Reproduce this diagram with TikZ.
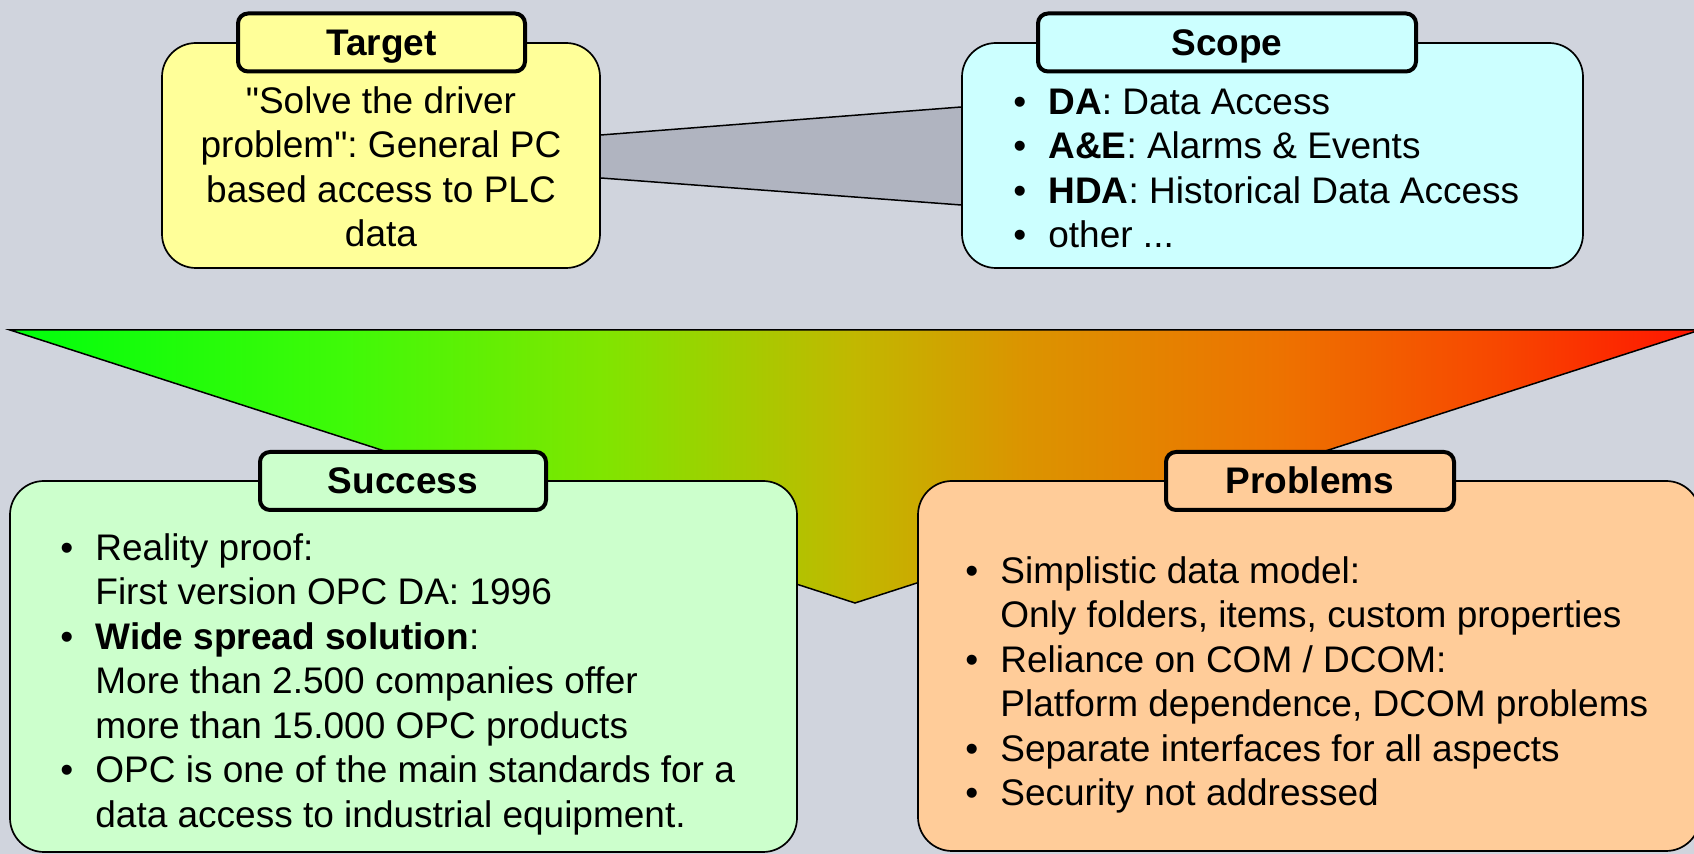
\documentclass[tikz,border=0pt]{standalone}
\usepackage{fontspec}
\setmainfont{Liberation Sans}[Ligatures=TeXOff]
\usetikzlibrary{calc,backgrounds}
\frenchspacing

\definecolor{bgc}{RGB}{208,212,221}
\definecolor{bandc}{RGB}{176,180,192}
\definecolor{targetc}{RGB}{255,255,153}
\definecolor{scopec}{RGB}{204,255,255}
\definecolor{successc}{RGB}{204,255,204}
\definecolor{problemc}{RGB}{255,204,153}

% green -> yellow -> red trend, the path spans 25bp..75bp
\pgfdeclarehorizontalshading{trend}{100bp}{%
  rgb(0bp)=(0,1,0.05);
  rgb(25bp)=(0,1,0.05);
  rgb(35bp)=(0.25,0.98,0.03);
  rgb(42.5bp)=(0.50,0.90,0);
  rgb(50bp)=(0.76,0.72,0);
  rgb(55bp)=(0.86,0.58,0);
  rgb(62.5bp)=(0.93,0.45,0);
  rgb(69bp)=(0.97,0.28,0);
  rgb(75bp)=(1,0.08,0);
  rgb(100bp)=(1,0.08,0)}

\newcommand\bulitem{\makebox[18.5pt][l]{\hspace{1pt}•}}
\newcommand\contline{\hspace*{18.5pt}}
\newcommand\firststrut{\rule{0pt}{15pt}}

\tikzset{
  panel/.style={draw, line width=0.85pt, rounded corners=17pt, inner sep=0pt},
  tab/.style={draw, line width=2pt, rounded corners=5pt, inner sep=0pt,
    font=\bfseries\fontsize{18.5pt}{22.25pt}\selectfont,
    text height=13pt, text depth=0pt, minimum height=29pt},
  body/.style={font=\fontsize{18.5pt}{22.25pt}\selectfont, inner sep=0pt,
    align=left, anchor=north west},
  edge/.style={draw, line width=0.75pt},
}

\begin{document}
\begin{tikzpicture}[x=0.5pt, y=-0.5pt]
\useasboundingbox (0,0) rectangle (1694,854);
\clip (0,0) rectangle (1694,854);

% trend funnel
\coordinate (fl) at (10,330);
\coordinate (fr) at (1700,330);
\coordinate (ft) at (855,603);
\shadedraw[shading=trend, line width=0.75pt] (fl) -- (fr) -- (ft) -- cycle;

% panels
\node[panel, fill=targetc, minimum width=219pt, minimum height=112.5pt] (target) at (381,155.5) {};
\node[panel, fill=scopec, minimum width=310.5pt, minimum height=112.5pt] (scope) at (1272.5,155.5) {};
\node[panel, fill=successc, minimum width=393.5pt, minimum height=185.5pt] (success) at (403.5,666.5) {};
\node[panel, fill=problemc, minimum width=391pt, minimum height=185pt] (problems) at (1309,666) {};

% title tabs
\node[tab, fill=targetc, minimum width=143.5pt] (ttab) at (381.5,42.5) {Target};
\node[tab, fill=scopec, minimum width=189pt] (stab) at (1227,42.5) {Scope};
\node[tab, fill=successc, minimum width=143pt] (sutab) at (403,481) {Success};
\node[tab, fill=problemc, minimum width=144pt] (ptab) at (1310,481) {Problems};

% texts
\node[body, align=center, anchor=north] (ttext) at (381,83)
  {\firststrut"Solve the driver\\problem": General PC\\based access to PLC\\data};
\node[body] (stext) at (1011,84)
  {\firststrut\bulitem\textbf{DA}: Data Access\\
   \bulitem\textbf{A\&E}: Alarms \& Events\\
   \bulitem\textbf{HDA}: Historical Data Access\\
   \bulitem other ...};
\node[body] (sutext) at (58,530)
  {\firststrut\bulitem Reality proof:\\
   \contline First version OPC DA: 1996\\
   \bulitem\textbf{Wide spread solution}:\\
   \contline More than 2.500 companies offer\\
   \contline more than 15.000 OPC products\\
   \bulitem OPC is one of the main standards for a\\
   \contline data access to industrial equipment.};
\node[body] (ptext) at (963,553)
  {\firststrut\bulitem Simplistic data model:\\
   \contline Only folders, items, custom properties\\
   \bulitem Reliance on COM / DCOM:\\
   \contline Platform dependence, DCOM problems\\
   \bulitem Separate interfaces for all aspects\\
   \bulitem Security not addressed};

% backdrop and the band joining target and scope
\begin{scope}[on background layer]
  \fill[bgc] (0,0) rectangle (1694,854);
  \fill[bandc] ($(target.east)+(0,-20.5)$) -- ($(scope.west)+(0,-48.5)$)
    -- ($(scope.west)+(0,49.5)$) -- ($(target.east)+(0,22.5)$) -- cycle;
  \path[edge] ($(target.east)+(0,-20.5)$) -- ($(scope.west)+(0,-48.5)$);
  \path[edge] ($(target.east)+(0,22.5)$) -- ($(scope.west)+(0,49.5)$);
\end{scope}
\end{tikzpicture}
\end{document}
